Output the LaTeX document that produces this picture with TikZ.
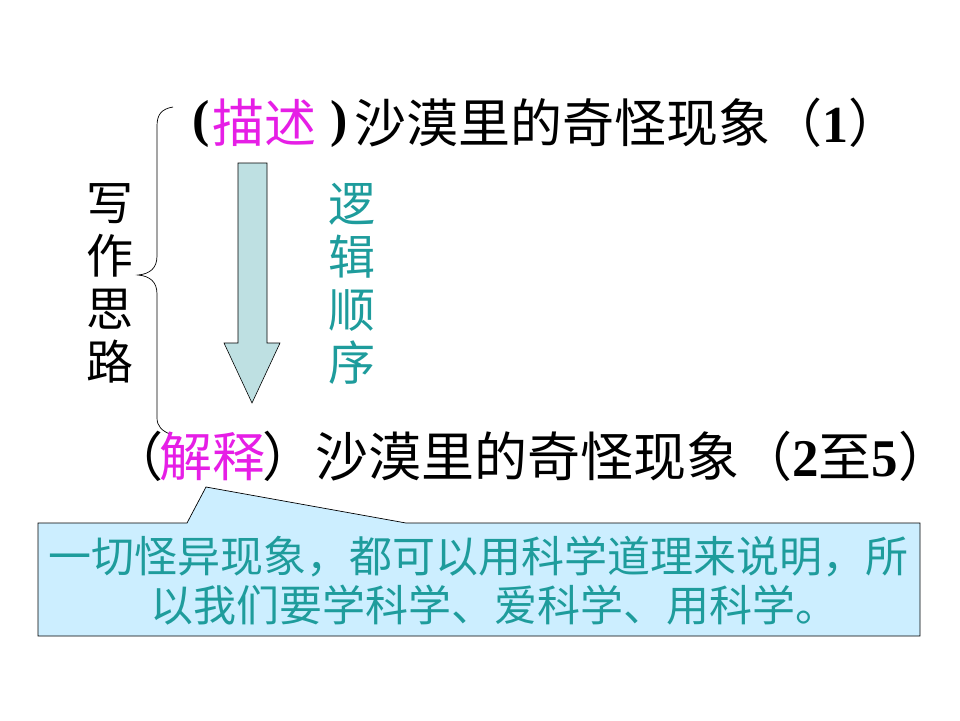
\documentclass[tikz,border=0pt]{standalone}
\usepackage{fontspec}
\setmainfont{Liberation Serif}
\newfontfamily\cjk{Noto Sans CJK SC}
\definecolor{mag}{HTML}{E61EE6}
\definecolor{tealtxt}{HTML}{1E9C9C}
\definecolor{arrowfill}{HTML}{BEE0E2}
\definecolor{callfill}{HTML}{CCEEFF}
\tikzset{
  txt/.style={inner sep=0pt, outer sep=0pt},
  big/.style={txt, font=\cjk\fontsize{52}{58}\selectfont},
  bigb/.style={txt, font=\cjk\fontsize{53}{58}\selectfont},
  vert/.style={txt, align=center, font=\cjk\fontsize{47}{53}\selectfont},
  calltxt/.style={txt, text=tealtxt, font=\cjk\fontsize{43}{48}\selectfont},
}
\begin{document}
\begin{tikzpicture}[x=1pt,y=-1pt]
\useasboundingbox (0,0) rectangle (960,720);
\fill[white] (0,0) rectangle (960,720);

% brace
\draw[line width=0.7pt] (173,107) .. controls (161,109) and (157,115) .. (157,126)
  -- (157,256) .. controls (157,268) and (150,274) .. (138,275)
  .. controls (150,276) and (157,282) .. (157,294)
  -- (157,418) .. controls (157,426) and (162,431) .. (170,434);

% top line
\node[txt, anchor=west, font=\bfseries\fontsize{52}{58}\selectfont] (lp1) at (192,124) {(};
\node[big, anchor=west, text=mag] (ms) at (212,123) {描述};
\node[txt, anchor=west, font=\bfseries\fontsize{52}{58}\selectfont] (rp1) at (330,124) {)};
\node[big, anchor=west] (t1) at (354,123) {沙漠里的奇怪现象（\textrm{\bfseries 1}）};

% vertical left label
\node[vert] (xz) at (110,283) {写\\作\\思\\路};

% arrow
\draw[fill=arrowfill, line width=0.6pt] (238,163) -- (267,163) -- (267,343) -- (280,343)
  -- (252,403) -- (224,343) -- (238,343) -- cycle;

% vertical right label
\node[vert, text=tealtxt] (ljsx) at (352,284) {逻\\辑\\顺\\序};

% bottom line
\node[bigb, anchor=west] (lp2) at (110,456) {（};
\node[bigb, anchor=west, text=mag] (js) at (159,456) {解释};
\node[bigb, anchor=west] (t2) at (262,456) {）沙漠里的奇怪现象（\textrm{\bfseries 2}至\textrm{\bfseries 5}）};

% callout
\draw[fill=callfill, line width=0.7pt] (38,523) -- (187,523) -- (206,487) -- (406,523)
  -- (920,523) -- (920,636) -- (38,636) -- cycle;
\node[calltxt] (c1) at (478,557) {一切怪异现象，都可以用科学道理来说明，所};
\node[calltxt] (c2) at (494,605) {以我们要学科学、爱科学、用科学。};
\end{tikzpicture}
\end{document}
